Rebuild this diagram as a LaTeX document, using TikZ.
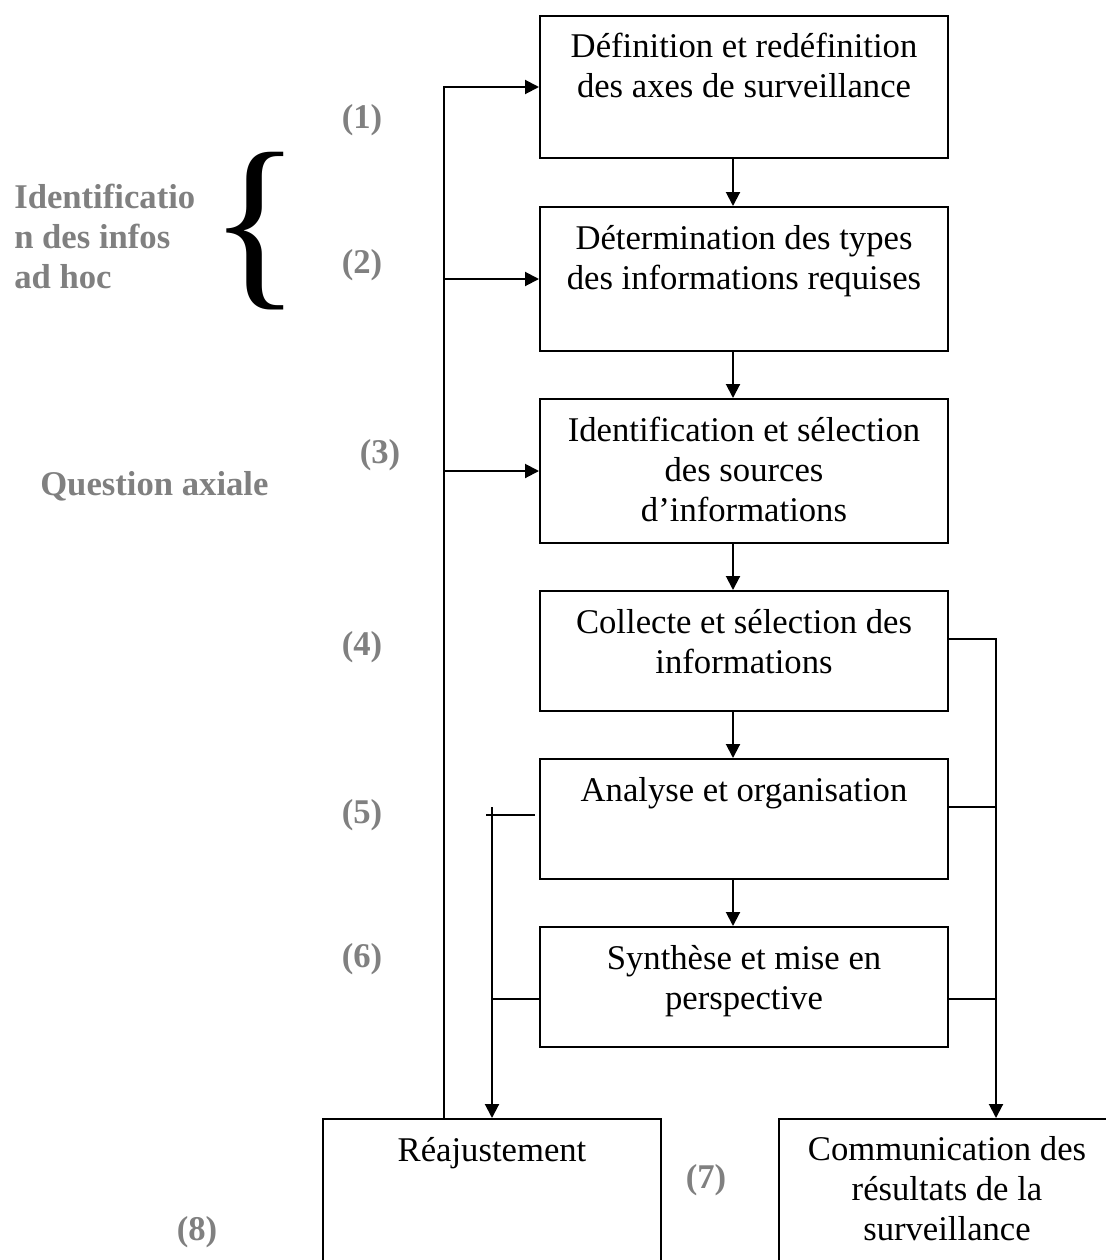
\documentclass[tikz,border=0pt]{standalone}
\usepackage{fontspec}
\setmainfont{Liberation Serif}
\usetikzlibrary{arrows.meta,calc}
\begin{document}
\begin{tikzpicture}[x=0.75pt,y=-0.75pt,
  box/.style={draw, line width=1.5pt, inner sep=0pt, minimum width=306pt},
  txt/.style={align=center, inner sep=0pt, font=\fontsize{26}{30}\selectfont},
  lab/.style={inner sep=0pt, text=gray, font=\bfseries\fontsize{26}{30}\selectfont},
  conn/.style={line width=1.5pt},
  arr/.style={conn, -{Triangle[length=10.5pt,width=10.5pt]}}]
\path[use as bounding box] (0,0) rectangle (1106,1260);
\clip (0,0) rectangle (1106,1260);

% boxes
\node[box, minimum height=106.5pt] (b1) at (744,87) {};
\node[box, minimum height=108pt] (b2) at (744,279) {};
\node[box, minimum height=108pt] (b3) at (744,471) {};
\node[box, minimum height=90pt] (b4) at (744,651) {};
\node[box, minimum height=90pt] (b5) at (744,819) {};
\node[box, minimum height=90pt] (b6) at (744,987) {};
\node[box, minimum width=253.5pt, minimum height=135.75pt] (r) at (492,1209.5) {};
\node[box, minimum width=252pt, minimum height=135.75pt] (c) at (947,1209.5) {};

% box texts (anchor base = baseline of the last line)
\node[txt, anchor=base] (t1) at (744,97) {Définition et redéfinition\\des axes de surveillance};
\node[txt, anchor=base] (t2) at (744,289) {Détermination des types\\des informations requises};
\node[txt, anchor=base] (t3) at (744,521) {Identification et sélection\\des sources\\d’informations};
\node[txt, anchor=base] (t4) at (744,673) {Collecte et sélection des\\informations};
\node[txt, anchor=base] (t5) at (744,801) {Analyse et organisation};
\node[txt, anchor=base] (t6) at (744,1009) {Synthèse et mise en\\perspective};
\node[txt, anchor=base] (tr) at (492,1161) {Réajustement};
\node[txt, anchor=base] (tc) at (947,1240) {Communication des\\résultats de la\\surveillance};

% side labels
\node[lab, align=left, anchor=base west] (id) at (14,288) {Identificatio\\n des infos\\ad hoc};
\node[lab, anchor=base west] (qa) at (40,495) {Question axiale};
\node[inner sep=0pt, font=\fontsize{143}{143}\selectfont] (brace) at (255,231) {\{};
\node[lab] (l1) at (362,120) {(1)};
\node[lab] (l2) at (362,265) {(2)};
\node[lab] (l3) at (380,455) {(3)};
\node[lab] (l4) at (362,647) {(4)};
\node[lab] (l5) at (362,815) {(5)};
\node[lab] (l6) at (362,959) {(6)};
\node[lab] (l7) at (706,1180) {(7)};
\node[lab] (l8) at (197,1232) {(8)};

% main chain
\draw[arr] ([xshift=-8.25pt]b1.south) -- ([xshift=-8.25pt]b2.north);
\draw[arr] ([xshift=-8.25pt]b2.south) -- ([xshift=-8.25pt]b3.north);
\draw[arr] ([xshift=-8.25pt]b3.south) -- ([xshift=-8.25pt]b4.north);
\draw[arr] ([xshift=-8.25pt]b4.south) -- ([xshift=-8.25pt]b5.north);
\draw[arr] ([xshift=-8.25pt]b5.south) -- ([xshift=-8.25pt]b6.north);

% feedback loop from Reajustement
\coordinate (fb) at ([xshift=-36pt]r.north);
\draw[arr] (fb) |- (b1.west);
\draw[arr] (b2.west -| fb) -- (b2.west);
\draw[arr] (b3.west -| fb) -- (b3.west);

% from Analyse / Synthese to Reajustement
\coordinate (j5) at (492,815);
\coordinate (a5l) at ([xshift=-3pt,yshift=3pt]b5.west);
\draw[conn] (a5l) -- (j5) -- ++(-6,0);
\draw[arr] ([yshift=6pt]j5) -- (r.north);
\coordinate (a6l) at ([yshift=-9pt]b6.west);
\draw[conn] (a6l) -- (a6l -| r.north);

% to Communication
\coordinate (a4r) at ([yshift=9pt]b4.east);
\coordinate (rr) at (996,639);
\coordinate (a5r) at ([yshift=9pt]b5.east);
\coordinate (a6r) at ([yshift=-9pt]b6.east);
\draw[arr] (a4r) -- (rr) -- (rr |- c.north);
\draw[conn] (a5r) -- (a5r -| rr);
\draw[conn] (a6r) -- (a6r -| rr);
\end{tikzpicture}
\end{document}
